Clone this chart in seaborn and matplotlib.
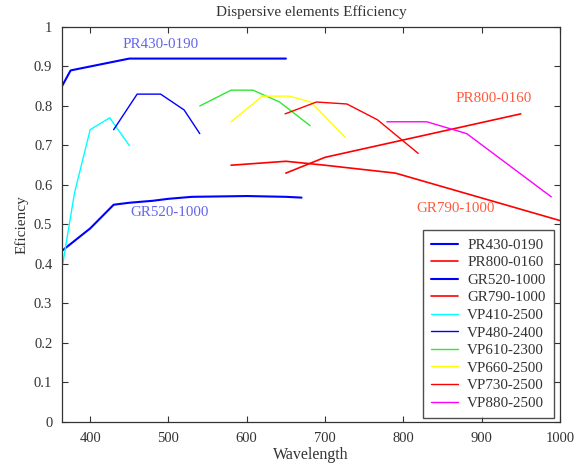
import matplotlib
matplotlib.use("Agg")
import matplotlib.pyplot as plt
import seaborn as sns
import pandas as pd

series_names = ["PR430-0190", "PR800-0160", "GR520-1000", "GR790-1000", "VP410-2500",
                "VP480-2400", "VP610-2300", "VP660-2500", "VP730-2500", "VP880-2500"]

pr430_x = [364, 375, 400, 450, 650]
pr430_y = [0.85, 0.89, 0.90, 0.92, 0.92]
pr800_x = [650, 700, 950]
pr800_y = [0.63, 0.67, 0.78]
gr520_x = [365, 400, 430, 450, 480, 500, 530, 600, 650, 670]
gr520_y = [0.435, 0.49, 0.55, 0.555, 0.56, 0.565, 0.57, 0.572, 0.57, 0.568]
gr790_x = [580, 650, 700, 790, 1000]
gr790_y = [0.65, 0.66, 0.65, 0.63, 0.51]
vp410_x = [365, 380, 400, 425, 450]
vp410_y = [0.40, 0.58, 0.74, 0.77, 0.70]
vp480_x = [430, 460, 490, 520, 540]
vp480_y = [0.74, 0.83, 0.83, 0.79, 0.73]
vp610_x = [540, 580, 608, 642, 681]
vp610_y = [0.80, 0.84, 0.84, 0.81, 0.75]
vp660_x = [580, 620, 654, 682, 726]
vp660_y = [0.76, 0.825, 0.825, 0.81, 0.72]
vp730_x = [649, 689, 728, 767, 819]
vp730_y = [0.78, 0.81, 0.805, 0.765, 0.68]
vp880_x = [779, 830, 881, 989]
vp880_y = [0.76, 0.76, 0.73, 0.57]

xs = [pr430_x, pr800_x, gr520_x, gr790_x, vp410_x, vp480_x, vp610_x, vp660_x, vp730_x, vp880_x]
ys = [pr430_y, pr800_y, gr520_y, gr790_y, vp410_y, vp480_y, vp610_y, vp660_y, vp730_y, vp880_y]
colors = ["#0000ff", "#ff0000", "#0000ff", "#ff0000", "#00ffff",
          "#0000ff", "#33e633", "#ffff00", "#ff0000", "#ff00ff"]
widths = [1.5, 1.2, 1.5, 1.2, 1.0, 1.0, 1.0, 1.0, 1.0, 1.0]

rows = []
for name, x, y in zip(series_names, xs, ys):
    for i, (a, b) in enumerate(zip(x, y)):
        rows.append({"series": name, "Wavelength": a, "Efficiency": b, "order": i})
df = pd.DataFrame(rows)

sns.set_style("ticks")
plt.rcParams["font.family"] = ["Liberation Serif", "DejaVu Serif"]
plt.rcParams["font.size"] = 10

fig = plt.figure(figsize=(5.82, 4.65), dpi=100)
ax = fig.add_axes([0.1065, 0.0925, 0.8555, 0.8495])

for name, c, w in zip(series_names, colors, widths):
    sub = df[df["series"] == name]
    sns.lineplot(data=sub, x="Wavelength", y="Efficiency", color=c, lw=w,
                 sort=False, estimator=None, ax=ax, label=name)

ax.set_xlim(364, 1000)
ax.set_ylim(0, 1)
ax.set_xticks([400, 500, 600, 700, 800, 900, 1000])
ax.set_yticks([0, 0.1, 0.2, 0.3, 0.4, 0.5, 0.6, 0.7, 0.8, 0.9, 1.0])
ax.set_yticklabels(["0", "0.1", "0.2", "0.3", "0.4", "0.5", "0.6", "0.7", "0.8", "0.9", "1"])
ax.tick_params(direction="in", top=True, right=True, length=4, width=0.8,
               labelsize=10.5, colors="#333333", labelcolor="#333333", pad=7)
for s in ax.spines.values():
    s.set_visible(True)
    s.set_color("#333333")
    s.set_linewidth(0.9)
ax.set_xlabel("Wavelength", fontsize=11.5, color="#333333", labelpad=2)
ax.set_ylabel("Eficiency", fontsize=11, color="#333333", labelpad=4)
ax.set_title("Dispersive elements Efficiency", fontsize=11, color="#333333", pad=8)

ax.text(490, 0.955, "PR430-0190", color="#6464ec", fontsize=10.8, ha="center", va="center")
ax.text(502, 0.53, "GR520-1000", color="#6464ec", fontsize=10.8, ha="center", va="center")
ax.text(915, 0.82, "PR800-0160", color="#ff5a3c", fontsize=10.8, ha="center", va="center")
ax.text(867, 0.54, "GR790-1000", color="#ff5a3c", fontsize=10.8, ha="center", va="center")

leg = ax.legend(loc="lower right", frameon=True, fancybox=False, fontsize=10.8,
                labelspacing=0.27, handlelength=1.8, handletextpad=0.6,
                borderpad=0.55, borderaxespad=0,
                bbox_to_anchor=(0.988, 0.01))
leg.get_frame().set_edgecolor("#222222")
leg.get_frame().set_linewidth(1.0)
for t in leg.get_texts():
    t.set_color("#333333")

fig.savefig("out.png", dpi=100)
